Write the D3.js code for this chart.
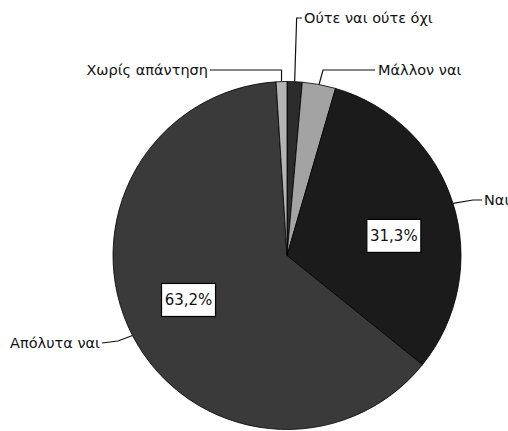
<!DOCTYPE html>
<html>
<head>
<meta charset="utf-8">
<script src="https://cdn.jsdelivr.net/npm/d3@7"></script>
<style>
  html, body { margin: 0; padding: 0; background: #fff; overflow: hidden; }
  svg { display: block; }
  text { font-family: "DejaVu Sans", Verdana, sans-serif; fill: #111; }
</style>
</head>
<body>
<svg id="chart" width="508" height="431"></svg>
<script>
// Answers, in drawing order clockwise from 12 o'clock
const categories = ["Ούτε ναι ούτε όχι", "Μάλλον ναι", "Ναι", "Απόλυτα ναι", "Χωρίς απάντηση"];
const values = [1.4, 3.1, 31.3, 63.2, 1.0];
const valueLabels = ["", "", "31,3%", "63,2%", ""];

const colors = ["#2c2c2c", "#a3a3a3", "#1b1b1b", "#3a3a3a", "#b4b4b4"];

const svg = d3.select("#chart");
const cx = 287, cy = 255.5, R = 174;

const g = svg.append("g").attr("transform", `translate(${cx},${cy})`);

const pie = d3.pie().sort(null).value(d => d.value);
const arcs = pie(categories.map((c, i) => ({ name: c, value: values[i], label: valueLabels[i], color: colors[i] })));

const arc = d3.arc().innerRadius(0).outerRadius(R);

g.selectAll("path.slice")
  .data(arcs)
  .join("path")
  .attr("class", "slice")
  .attr("d", arc)
  .attr("fill", d => d.data.color)
  .attr("stroke", "#000")
  .attr("stroke-width", 0.8)
  .attr("stroke-linejoin", "round");

// point on the rim at the middle of a slice
function rimPoint(d) {
  const a = (d.startAngle + d.endAngle) / 2;
  return [R * Math.sin(a), -R * Math.cos(a)];
}

// leader routes (relative to pie centre), text anchor and position
const callouts = [
  { route: p => [p, [p[0] + 2, 18 - cy], [302 - cx, 18 - cy]], anchor: "start", x: 304, y: 23 },
  { route: p => [p, [323 - cx, 70 - cy], [375 - cx, 70 - cy]], anchor: "start", x: 378, y: 75 },
  { route: p => [p, [473 - cx, 200 - cy], [482 - cx, 200 - cy]], anchor: "start", x: 484, y: 205 },
  { route: p => [p, [118 - cx, 341 - cy], [102 - cx, 343 - cy]], anchor: "end", x: 100, y: 348 },
  { route: p => [p, [p[0], 70 - cy], [210 - cx, 70 - cy]], anchor: "end", x: 208, y: 75 }
];

const line = d3.line();
arcs.forEach((d, i) => {
  const c = callouts[i];
  const pts = c.route(rimPoint(d));
  g.append("path")
    .attr("d", line(pts))
    .attr("fill", "none")
    .attr("stroke", "#111")
    .attr("stroke-width", 1.2);
  svg.append("text")
    .attr("x", c.x)
    .attr("y", c.y)
    .attr("text-anchor", c.anchor)
    .attr("font-size", 14.5)
    .text(d.data.name);
});

// boxed percentage labels inside the large slices
const labelArc = d3.arc().innerRadius(112).outerRadius(112);
const labelShift = { 2: [0, 14], 3: [1, -7] };
arcs.forEach((d, i) => {
  if (!d.data.label) return;
  const [lx, ly] = labelArc.centroid(d);
  const s = labelShift[i] || [0, 0];
  const lg = g.append("g").attr("transform", `translate(${lx + s[0]},${ly + s[1]})`);
  lg.append("rect")
    .attr("x", -27)
    .attr("y", -16.5)
    .attr("width", 54)
    .attr("height", 33)
    .attr("fill", "#fff")
    .attr("stroke", "#000")
    .attr("stroke-width", 1.2);
  lg.append("text")
    .attr("text-anchor", "middle")
    .attr("dominant-baseline", "central")
    .attr("font-size", 15)
    .text(d.data.label);
});
</script>
</body>
</html>
